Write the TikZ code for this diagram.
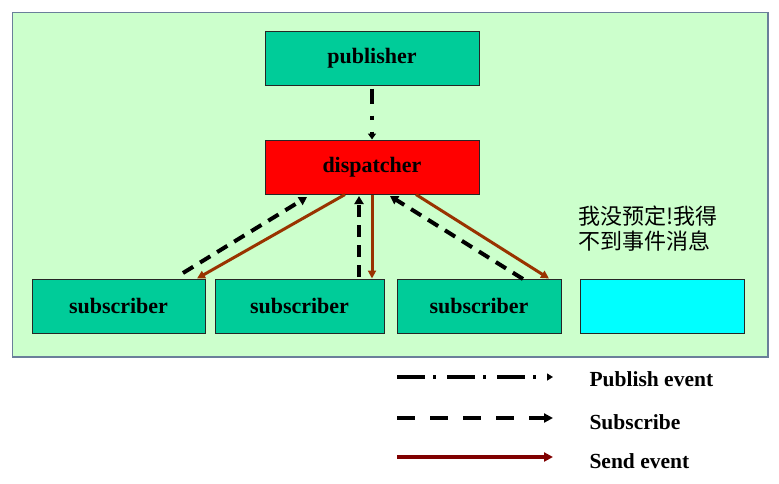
\documentclass[tikz,border=0pt]{standalone}
\usepackage{fontspec}
\setmainfont{Liberation Serif}
\newfontfamily\cjk{Noto Sans CJK SC}
\usetikzlibrary{arrows.meta}
\definecolor{bggreen}{HTML}{CCFFCC}
\definecolor{boxgreen}{HTML}{00CC99}
\definecolor{framec}{HTML}{6A7F9A}
\definecolor{sendc}{HTML}{993300}
\definecolor{legsend}{HTML}{800000}
\definecolor{purecyan}{HTML}{00FFFF}
\definecolor{purered}{HTML}{FF0000}
\tikzset{
  box/.style={draw=black!85, line width=1pt, inner sep=0pt, font=\fontsize{22}{26}\selectfont\bfseries},
  pubarrow/.style={line width=4pt, dash pattern=on 15pt off 12pt on 4pt off 12pt, -{Triangle[length=6pt,width=8pt]}},
  subarrow/.style={line width=4pt, dash pattern=on 12pt off 8pt, -{Triangle[length=8pt,width=9pt]}},
  sendarrow/.style={line width=3pt, draw=sendc, -{Triangle[length=8pt,width=8pt]}},
  legtext/.style={anchor=west, font=\fontsize{21.5}{24}\selectfont\bfseries},
}
\begin{document}
\begin{tikzpicture}[x=1pt,y=-1pt]
\useasboundingbox (0,0) rectangle (779,483);
\draw[fill=bggreen, draw=framec, line width=1.5pt] (12.5,12.5) rectangle (768,357);
% boxes
\node[box, fill=boxgreen, minimum width=214pt, minimum height=54pt] (pub) at (372,58) {publisher};
\node[box, fill=purered, minimum width=214pt, minimum height=54pt] (disp) at (372,167) {dispatcher};
\node[box, fill=boxgreen, minimum width=173pt, minimum height=54pt] (s1) at (118.5,306) {subscriber};
\node[box, fill=boxgreen, minimum width=169pt, minimum height=54pt] (s2) at (299.5,306) {subscriber};
\node[box, fill=boxgreen, minimum width=164pt, minimum height=54pt] (s3) at (479,306) {subscriber};
\node[box, fill=purecyan, minimum width=164pt, minimum height=54pt] (s4) at (662,306) {};
\node[anchor=north west, align=left, inner sep=0pt, font=\cjk\fontsize{22}{25}\selectfont] (note) at (578,206) {我没预定!我得\\不到事件消息};
% publish
\draw[pubarrow] (pub.south) ++(0,3) coordinate (p0) (p0) -- (disp.north);
% subscribe
\coordinate (a1) at (183,273);
\coordinate (a1e) at (307,197);
\draw[subarrow] (a1) -- (a1e);
\coordinate (a2) at (359,277);
\coordinate (a2e) at (359,196);
\draw[subarrow] (a2) -- (a2e);
\coordinate (a3) at (523,279);
\coordinate (a3e) at (390,196);
\draw[subarrow] (a3) -- (a3e);
% send
\draw[sendarrow] (disp.south -| 345,0) -- (s1.north -| 197,0);
\draw[sendarrow] (disp.south -| 372,0) -- (s2.north -| 372,0);
\draw[sendarrow] (disp.south -| 416,0) -- (s3.north -| 549,0);
% legend
\coordinate (l1a) at (397,377); \coordinate (l1b) at (553,377);
\coordinate (l2a) at (397,418); \coordinate (l2b) at (553,418);
\coordinate (l3a) at (397,457); \coordinate (l3b) at (553,457);
\draw[line width=4pt, dash pattern=on 28pt off 8pt on 3pt off 11pt, -{Triangle[length=6pt,width=7pt]}] (l1a) -- (l1b);
\draw[line width=4.5pt, dash pattern=on 18pt off 15pt, -{Triangle[length=9pt,width=9pt]}] (l2a) -- (l2b);
\draw[line width=4pt, draw=legsend, -{Triangle[length=9pt,width=9pt]}] (l3a) -- (l3b);
\node[legtext] (t1) at (586,379) {Publish event};
\node[legtext] (t2) at (586,422) {Subscribe};
\node[legtext] (t3) at (586,461) {Send event};
\end{tikzpicture}
\end{document}
